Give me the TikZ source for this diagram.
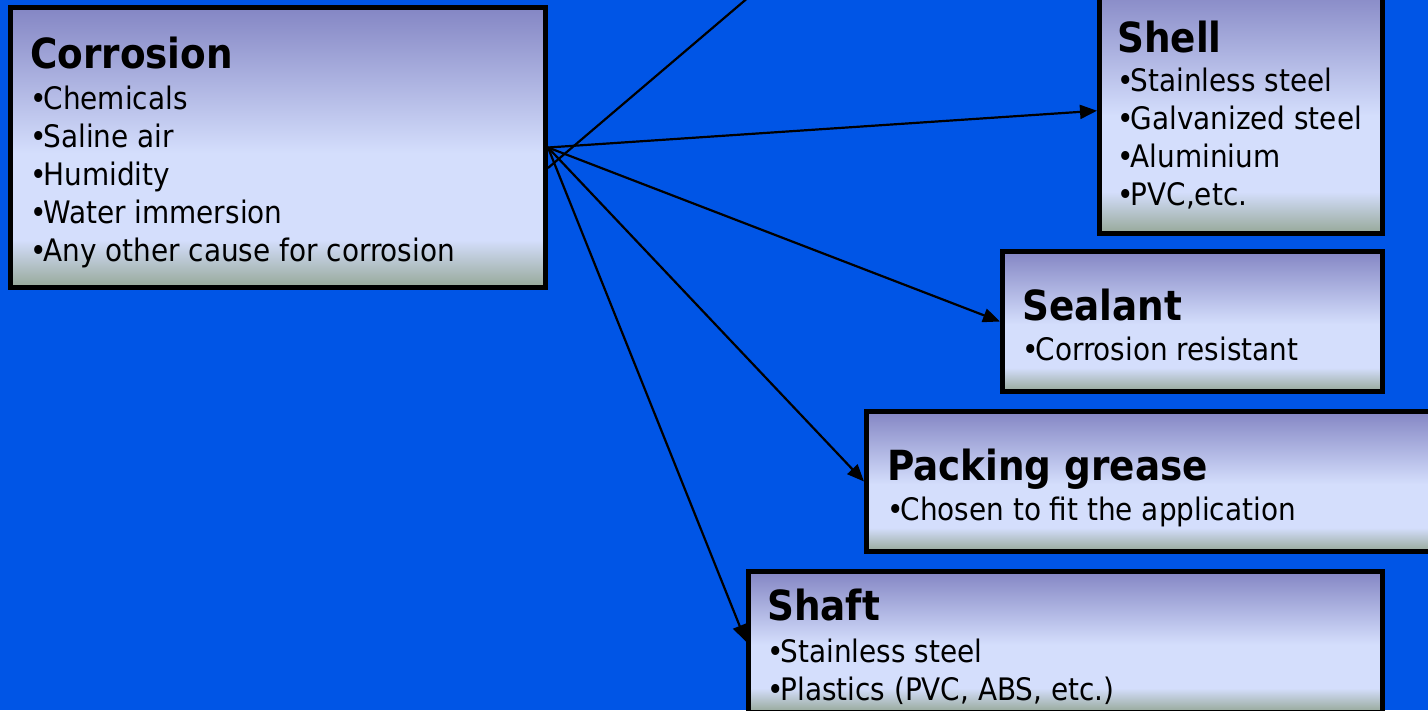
\documentclass[tikz,border=0pt]{standalone}
\usepackage{fontspec}
\setmainfont{DejaVu Sans Condensed}
\usetikzlibrary{arrows.meta,calc}
\definecolor{bgblue}{RGB}{0,85,230}
\definecolor{boxtop}{RGB}{132,134,196}
\definecolor{boxmid}{RGB}{212,222,252}
\definecolor{boxbot}{RGB}{150,168,152}
\pgfdeclareverticalshading{boxshade}{100bp}{color(0bp)=(boxbot); color(25bp)=(boxbot); color(33.5bp)=(boxmid); color(49bp)=(boxmid); color(75bp)=(boxtop); color(100bp)=(boxtop)}
\newcommand{\bul}{•\kern-3pt}
\tikzset{
  box/.style={draw=black, line width=5pt, shade, shading=boxshade, rectangle, inner sep=0pt},
  conn/.style={draw=black, line width=2.2pt, -{Triangle[length=17pt,width=14pt]}},
  ttl/.style={anchor=base west, inner sep=0pt, font=\fontsize{41.5}{48}\selectfont\bfseries},
  txt/.style={anchor=base west, inner sep=0pt, font=\fontsize{31}{36}\selectfont}
}
\begin{document}
\begin{tikzpicture}[x=1pt,y=-1pt]
\useasboundingbox (0,0) rectangle (1428,710);
\clip (0,0) rectangle (1428,710);
\fill[bgblue] (0,0) rectangle (1428,710);
% boxes
\node[box, minimum width=535pt, minimum height=280pt] (corr) at (278,147.5) {};
\node[box, minimum width=283pt, minimum height=245.5pt] (shell) at (1241,110.75) {};
\node[box, minimum width=380pt, minimum height=140pt] (seal) at (1192.5,321.5) {};
\node[box, minimum width=563.5pt, minimum height=140pt] (pack) at (1148.25,481.5) {};
\node[box, minimum width=634pt, minimum height=140.5pt] (shaft) at (1065.5,641.75) {};
% texts
\node[ttl] (corrT) at (30,68) {Corrosion};
\node[txt] (corr1) at (30,109) {\bul Chemicals};
\node[txt] (corr2) at (30,147) {\bul Saline air};
\node[txt] (corr3) at (30,185) {\bul Humidity};
\node[txt] (corr4) at (30,223) {\bul Water immersion};
\node[txt] (corr5) at (30,261) {\bul Any other cause for corrosion};
\node[ttl] (shellT) at (1117,52) {Shell};
\node[txt] (shell1) at (1117,91) {\bul Stainless steel};
\node[txt] (shell2) at (1117,129) {\bul Galvanized steel};
\node[txt] (shell3) at (1117,167) {\bul Aluminium};
\node[txt] (shell4) at (1117,205) {\bul PVC,etc.};
\node[ttl] (sealT) at (1022,320) {Sealant};
\node[txt] (seal1) at (1022,360) {\bul Corrosion resistant};
\node[ttl] (packT) at (887,480) {Packing grease};
\node[txt] (pack1) at (887,520) {\bul Chosen to fit the application};
\node[ttl] (shaftT) at (767,620) {Shaft};
\node[txt] (shaft1) at (767,662) {\bul Stainless steel};
\node[txt] (shaft2) at (767,700) {\bul Plastics (PVC, ABS, etc.)};
% connectors
\coordinate (src2) at ($(corr.east)+(0,20.5)$);
\coordinate (upper) at (824,-67);
\draw[conn] (src2) -- (upper);
\draw[conn] (corr.east) -- (shell.west);
\draw[conn] (corr.east) -- (seal.west);
\draw[conn] (corr.east) -- (pack.west);
\draw[conn] (corr.east) -- (shaft.west);
\end{tikzpicture}
\end{document}
